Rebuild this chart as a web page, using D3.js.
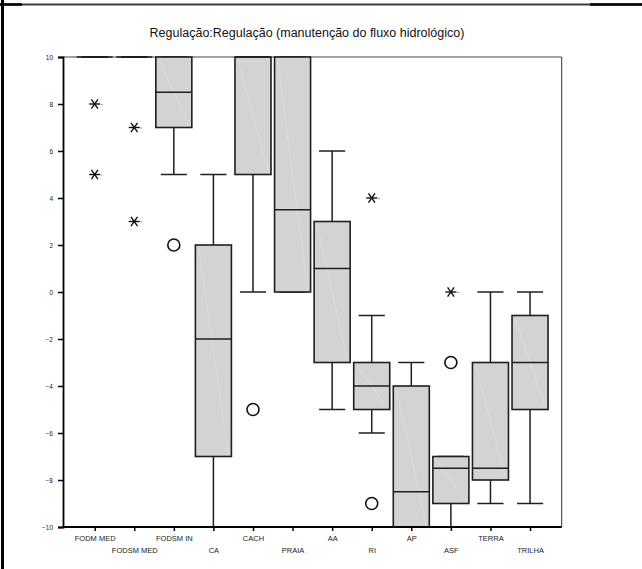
<!DOCTYPE html>
<html>
<head>
<meta charset="utf-8">
<script src="https://cdn.jsdelivr.net/npm/d3@7"></script>
<style>
  html, body { margin: 0; padding: 0; background: #fff; }
  svg { display: block; font-family: "Liberation Sans", Arial, sans-serif; }
</style>
</head>
<body>
<svg id="chart" width="642" height="569"></svg>
<script>
// Box-plot summaries per land-use class
const categories = ["FODM MED", "FODSM MED", "FODSM IN", "CA", "CACH", "PRAIA", "AA", "RI", "AP", "ASF", "TERRA", "TRILHA"];
const q1          = [10, 10, 7, -7, 5, 0, -3, -5, -10, -9, -8, -5];
const medians     = [10, 10, 8.5, -2, 10, 3.5, 1, -4, -8.5, -7.5, -7.5, -3];
const q3          = [10, 10, 10, 2, 10, 10, 3, -3, -4, -7, -3, -1];
const whiskerLow  = [10, 10, 5, -10, 0, 0, -5, -6, -10, -10, -9, -9];
const whiskerHigh = [10, 10, 10, 5, 10, 10, 6, -1, -3, -7, 0, 0];
// outliers drawn as circles, extremes drawn as asterisks
const outliers = [[], [], [2], [], [-5], [], [], [-9], [], [-3], [], []];
const extremes = [[8, 5], [7, 3], [], [], [], [], [], [4], [], [0], [], []];
const yTicks = [-10, -8, -6, -4, -2, 0, 2, 4, 6, 8, 10];
const title = "Regulação:Regulação (manutenção do fluxo hidrológico)";

const svg = d3.select("#chart");
const W = 642, H = 569;
const plot = { left: 63, right: 561.7, top: 57, bottom: 527 };

const x = d3.scalePoint().domain(categories).range([plot.left, plot.right]).padding(0.8);
const y = d3.scaleLinear().domain([-10, 10]).range([plot.bottom, plot.top]);
const step = x.step();
const boxW = step * 0.91;
const capW = step * 0.66;

// page border lines
svg.append("line").attr("x1", 0).attr("x2", W).attr("y1", 4.5).attr("y2", 4.5)
  .attr("stroke", "#3a3a3a").attr("stroke-width", 2);
svg.append("line").attr("x1", 0).attr("x2", 22).attr("y1", 4.5).attr("y2", 4.5)
  .attr("stroke", "#000").attr("stroke-width", 2.5);
svg.append("line").attr("x1", 590).attr("x2", W).attr("y1", 4.5).attr("y2", 4.5)
  .attr("stroke", "#000").attr("stroke-width", 2.5);
svg.append("line").attr("x1", 2.5).attr("x2", 2.5).attr("y1", 0).attr("y2", H)
  .attr("stroke", "#000").attr("stroke-width", 3);

// title
svg.append("text").attr("x", 307).attr("y", 37).attr("text-anchor", "middle")
  .attr("font-size", 12.5).attr("fill", "#111").text(title);

// plot frame (top and right)
svg.append("line").attr("x1", plot.left).attr("x2", plot.right).attr("y1", plot.top).attr("y2", plot.top)
  .attr("stroke", "#444").attr("stroke-width", 1);
svg.append("line").attr("x1", plot.right).attr("x2", plot.right).attr("y1", plot.top).attr("y2", plot.bottom)
  .attr("stroke", "#333").attr("stroke-width", 1);

const stroke = "#1e1e1e";
const groups = svg.append("g").selectAll("g").data(categories).join("g");

groups.each(function (cat, i) {
  const g = d3.select(this);
  const cx = x(cat);
  // whiskers
  g.append("line").attr("x1", cx).attr("x2", cx).attr("y1", y(q3[i])).attr("y2", y(whiskerHigh[i]))
    .attr("stroke", stroke).attr("stroke-width", 1.5);
  g.append("line").attr("x1", cx).attr("x2", cx).attr("y1", y(q1[i])).attr("y2", y(whiskerLow[i]))
    .attr("stroke", stroke).attr("stroke-width", 1.5);
  [whiskerHigh[i], whiskerLow[i]].forEach(v => {
    g.append("line").attr("x1", cx - capW / 2).attr("x2", cx + capW / 2).attr("y1", y(v)).attr("y2", y(v))
      .attr("stroke", stroke).attr("stroke-width", 1.5);
  });
  // box
  const bx0 = cx - boxW / 2, bx1 = cx + boxW / 2;
  const by0 = y(q3[i]), by1 = y(q1[i]);
  g.append("rect").attr("x", bx0).attr("y", by0).attr("width", boxW).attr("height", by1 - by0)
    .attr("fill", "#d3d3d3").attr("stroke", stroke).attr("stroke-width", 1.6);
  if (by1 - by0 > 4) {
    g.append("line").attr("x1", bx0 + 3).attr("y1", by0 + 3).attr("x2", bx1 - 3).attr("y2", by1 - 3)
      .attr("stroke", "#fff").attr("stroke-opacity", 0.3).attr("stroke-width", 0.6);
  }
  // median
  g.append("line").attr("x1", bx0).attr("x2", bx1).attr("y1", y(medians[i])).attr("y2", y(medians[i]))
    .attr("stroke", stroke).attr("stroke-width", 1.5);
  // outliers
  outliers[i].forEach(v => {
    g.append("circle").attr("cx", cx).attr("cy", y(v)).attr("r", 6)
      .attr("fill", "none").attr("stroke", "#111").attr("stroke-width", 1.6);
  });
  // extremes (asterisks)
  extremes[i].forEach(v => {
    const cy = y(v), r = 5.5;
    const a = g.append("g").attr("stroke", "#111").attr("stroke-width", 1.4);
    a.append("line").attr("x1", cx - r).attr("x2", cx + r).attr("y1", cy).attr("y2", cy);
    a.append("line").attr("x1", cx - r * 0.6).attr("x2", cx + r * 0.6).attr("y1", cy - r * 0.85).attr("y2", cy + r * 0.85);
    a.append("line").attr("x1", cx - r * 0.6).attr("x2", cx + r * 0.6).attr("y1", cy + r * 0.85).attr("y2", cy - r * 0.85);
    g.append("line").attr("x1", cx + r + 0.5).attr("x2", cx + r + 2.5).attr("y1", cy + 0.5).attr("y2", cy + 0.5)
      .attr("stroke", "#999").attr("stroke-width", 1);
  });
});

// y axis
const yAxis = svg.append("g").attr("transform", `translate(${plot.left},0)`)
  .call(d3.axisLeft(y).tickValues(yTicks).tickSize(5).tickPadding(5).tickFormat(d3.format("d")));
yAxis.select(".domain").attr("stroke", "#000").attr("stroke-width", 1.8);
yAxis.selectAll(".tick line").attr("stroke", "#000").attr("stroke-width", 1.5);
yAxis.selectAll(".tick text").attr("font-size", 6.5).attr("fill", "#222")
  .attr("font-family", "Liberation Sans, Arial, sans-serif");

// x axis with alternating label rows
const xAxis = svg.append("g").attr("transform", `translate(0,${plot.bottom})`)
  .call(d3.axisBottom(x).tickSize(4).tickSizeOuter(0));
xAxis.select(".domain").attr("stroke", "#000").attr("stroke-width", 1.8)
  .attr("d", `M${plot.left},0H${plot.right}`);
xAxis.selectAll(".tick line").attr("stroke", "#000").attr("stroke-width", 1.5);
xAxis.selectAll(".tick text").attr("font-size", 7.5).attr("fill", "#222")
  .attr("font-family", "Liberation Sans, Arial, sans-serif")
  .attr("y", (d, i) => (i % 2 === 0 ? 8.5 : 20.5)).attr("dy", "0.71em");
</script>
</body>
</html>
